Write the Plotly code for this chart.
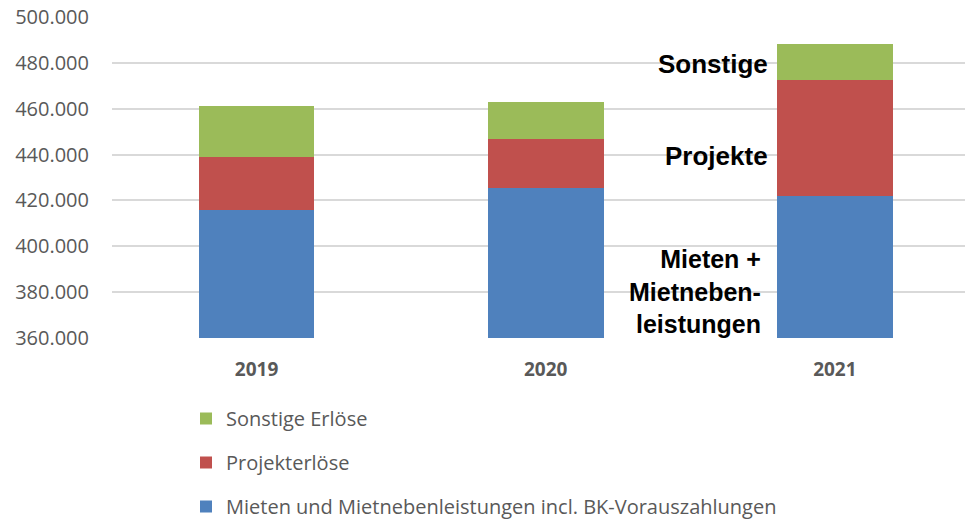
import plotly.graph_objects as go

years = ["2019", "2020", "2021"]
mieten = [415700, 425500, 422000]
projekte = [23300, 21500, 50600]
sonstige = [22400, 16000, 15700]
names = ["Mieten und Mietnebenleistungen incl. BK-Vorauszahlungen", "Projekterlöse", "Sonstige Erlöse"]
colors = ["#4F81BD", "#C0504D", "#9BBB59"]
tickvals = [360000, 380000, 400000, 420000, 440000, 460000, 480000, 500000]
ticktext = ["360.000", "380.000", "400.000", "420.000", "440.000", "460.000", "480.000", "500.000"]

fig = go.Figure()
for i, (vals, name, col) in enumerate(zip([mieten, projekte, sonstige], names, colors)):
    fig.add_trace(go.Bar(x=years, y=vals, name=name, marker=dict(color=col, line=dict(width=0)),
                         width=0.4, legendgroup=f"g{i}", legendrank=3 - i))

ann_font = dict(family="Liberation Sans, Arial", size=26, color="black")
fig.add_annotation(x=2, y=479500, xref="x", yref="y", text="<b>Sonstige</b>", showarrow=False,
                   xanchor="right", yanchor="middle", xshift=-65, font=ann_font)
fig.add_annotation(x=2, y=439500, xref="x", yref="y", text="<b>Projekte</b>", showarrow=False,
                   xanchor="right", yanchor="middle", xshift=-65, font=ann_font)
fig.add_annotation(x=2, y=380400, xref="x", yref="y", text="<b>Mieten +<br>Mietneben-<br>leistungen</b>",
                   showarrow=False, xanchor="right", yanchor="middle", align="right", xshift=-72,
                   font=dict(family="Liberation Sans, Arial", size=25, color="black"))

fig.update_layout(
    width=965, height=525,
    margin=dict(l=112, r=0, t=17, b=187, autoexpand=False),
    barmode="stack",
    plot_bgcolor="white", paper_bgcolor="white",
    font=dict(family="Open Sans", color="#595959", size=20),
    legend=dict(orientation="v", traceorder="grouped", tracegroupgap=15,
                x=186/965, xref="container", xanchor="left",
                y=1 - 399/525, yref="container", yanchor="top",
                font=dict(size=20, color="#595959")),
    xaxis=dict(range=[-0.5, 2.45], showgrid=False, showline=False, ticks="",
               tickfont=dict(size=19, color="#595959", family="Open Sans"),
               tickprefix="<b>", ticksuffix="</b>", ticklabelstandoff=18),
    yaxis=dict(range=[360000, 500000], tickvals=tickvals, ticktext=ticktext,
               showgrid=True, gridcolor="#d9d9d9", gridwidth=1.5, zeroline=False,
               showline=False, ticks="", tickfont=dict(size=20, color="#595959"),
               ticklabelstandoff=22),
    bargap=0.6,
)
fig.write_html("out.html")
